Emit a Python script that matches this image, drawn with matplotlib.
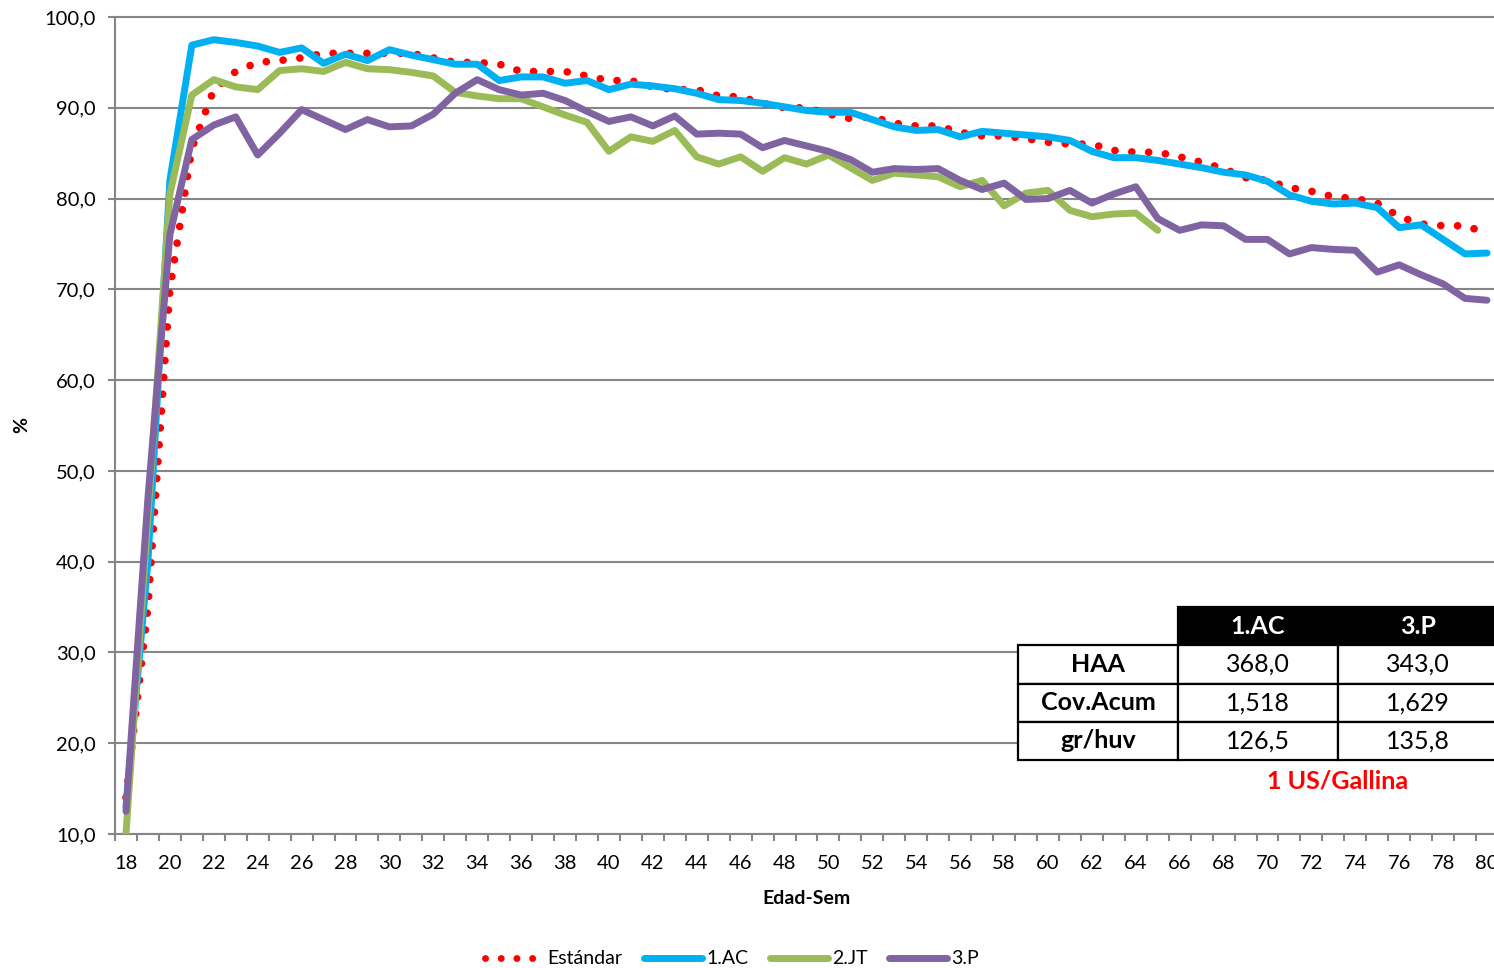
import matplotlib
matplotlib.use("Agg")
import matplotlib.pyplot as plt
from matplotlib.patches import Rectangle
from matplotlib.lines import Line2D
import numpy as np

plt.rcParams['font.family'] = ['Lato', 'DejaVu Sans']

# ---------------- data ----------------
weeks = list(range(18, 81))
weeks_jt = list(range(18, 66))

estandar = [14.0, 35.0, 70.0, 85.5, 92.0, 94.0, 95.0, 95.2, 95.5, 96.0,
            96.0, 96.0, 96.0, 96.0, 95.5, 95.0, 95.0, 94.8, 94.0, 94.0,
            94.0, 93.5, 93.0, 93.0, 92.3, 92.0, 92.0, 91.3, 91.2, 90.5,
            90.0, 90.0, 89.3, 88.8, 89.0, 88.3, 88.0, 88.0, 87.3, 86.9,
            86.9, 86.6, 86.2, 86.0, 86.0, 85.3, 85.1, 85.1, 84.6, 84.0,
            83.3, 82.3, 82.0, 81.2, 80.8, 80.2, 80.0, 79.5, 78.0, 77.2,
            77.0, 77.0, 76.2]

ac = [13.0, 40.0, 82.0, 96.9, 97.5, 97.2, 96.8, 96.1, 96.6, 94.9,
      95.9, 95.2, 96.4, 95.8, 95.3, 94.8, 94.8, 93.0, 93.4, 93.4,
      92.7, 93.0, 92.0, 92.6, 92.4, 92.1, 91.6, 90.9, 90.8, 90.5,
      90.1, 89.7, 89.5, 89.5, 88.7, 87.9, 87.5, 87.6, 86.8, 87.4,
      87.2, 87.0, 86.8, 86.4, 85.2, 84.5, 84.5, 84.2, 83.8, 83.4,
      82.9, 82.6, 81.9, 80.4, 79.7, 79.4, 79.5, 79.0, 76.8, 77.1,
      75.5, 73.9, 74.0]

jt = [10.0, 45.0, 80.5, 91.4, 93.1, 92.3, 92.0, 94.1, 94.3, 94.0,
      95.0, 94.3, 94.2, 93.9, 93.5, 91.7, 91.3, 91.0, 91.0, 90.1,
      89.2, 88.4, 85.2, 86.8, 86.3, 87.5, 84.6, 83.8, 84.6, 83.0,
      84.5, 83.8, 84.8, 83.4, 82.0, 82.8, 82.6, 82.4, 81.3, 82.0,
      79.2, 80.6, 80.9, 78.7, 78.0, 78.3, 78.4, 76.5]

p3 = [12.5, 47.0, 76.0, 86.5, 88.1, 89.0, 84.8, 87.2, 89.8, 88.7,
      87.6, 88.7, 87.9, 88.0, 89.3, 91.6, 93.1, 92.0, 91.4, 91.6,
      90.8, 89.6, 88.5, 89.0, 88.0, 89.1, 87.1, 87.2, 87.1, 85.6,
      86.4, 85.8, 85.2, 84.3, 82.9, 83.3, 83.2, 83.3, 82.0, 81.0,
      81.7, 79.9, 80.0, 80.9, 79.5, 80.5, 81.3, 77.8, 76.5, 77.1,
      77.0, 75.5, 75.5, 73.9, 74.6, 74.4, 74.3, 71.9, 72.7, 71.6,
      70.6, 69.0, 68.8]

series_names = ['Estándar', '1.AC', '2.JT', '3.P']
series_colors = ['#FF0000', '#00B0F0', '#9BBB59', '#8064A2']

table_cols = ['1.AC', '3.P']
table_rows = ['HAA', 'Cov.Acum', 'gr/huv']
table_vals = [['368,0', '343,0'],
              ['1,518', '1,629'],
              ['126,5', '135,8']]
table_note = '1 US/Gallina'

yticks = list(range(10, 101, 10))
xtick_weeks = list(range(18, 81, 2))

# ---------------- figure ----------------
W, H = 1494, 968
fig = plt.figure(figsize=(W / 100, H / 100), dpi=100)
fig.patch.set_facecolor('white')

def fx(x):
    return x / W

def fy(y):
    return 1 - y / H

ax = fig.add_axes([fx(115), fy(834), (1498 - 115) / W, (834 - 17) / H])
ax.set_xlim(17.5, 80.5)
ax.set_ylim(10, 100)

grid_c = '#868686'
ax.set_axisbelow(True)
ax.yaxis.grid(True, color=grid_c, lw=1.5)
for s in ['right']:
    ax.spines[s].set_visible(False)
for s in ['left', 'bottom', 'top']:
    ax.spines[s].set_color(grid_c)
    ax.spines[s].set_linewidth(1.5)

dot_style = (0, (0.01, 2.2))
ax.plot(weeks, estandar, color=series_colors[0], lw=5.5, linestyle=dot_style,
        dash_capstyle='round', zorder=3)
ax.plot(weeks, ac, color=series_colors[1], lw=5, solid_capstyle='round',
        solid_joinstyle='round', zorder=4)
ax.plot(weeks_jt, jt, color=series_colors[2], lw=5, solid_capstyle='round',
        solid_joinstyle='round', zorder=5)
ax.plot(weeks, p3, color=series_colors[3], lw=5, solid_capstyle='round',
        solid_joinstyle='round', zorder=6)

ax.set_yticks(yticks)
ax.set_yticklabels([f"{v:.1f}".replace('.', ',') for v in yticks], fontsize=14.5)
ax.tick_params(axis='y', length=5, width=1.5, color=grid_c, pad=9)

ax.set_xticks(xtick_weeks)
ax.set_xticklabels([str(w) for w in xtick_weeks], fontsize=14.5)
ax.set_xticks(np.arange(17.5, 80.6, 1.0), minor=True)
ax.tick_params(axis='x', which='major', length=0, pad=15)
ax.tick_params(axis='x', which='minor', length=5, width=1.5, color=grid_c)

fig.text(fx(806), fy(898), 'Edad-Sem', ha='center', va='center',
         fontsize=14, fontweight='bold')
fig.text(fx(22), fy(425), '%', ha='center', va='center', rotation=90,
         fontsize=14, fontweight='bold')

# ---------------- legend ----------------
handles = [
    Line2D([], [], color=series_colors[0], lw=5, linestyle=(0, (0.01, 2.25)),
           dash_capstyle='round'),
    Line2D([], [], color=series_colors[1], lw=5, solid_capstyle='round'),
    Line2D([], [], color=series_colors[2], lw=5, solid_capstyle='round'),
    Line2D([], [], color=series_colors[3], lw=5, solid_capstyle='round'),
]
fig.legend(handles, series_names, loc='center', bbox_to_anchor=(fx(732), fy(959)),
           ncol=4, frameon=False, fontsize=14, handlelength=3.0,
           handletextpad=0.2, columnspacing=1.1)

# ---------------- table ----------------
x_edges = [1018, 1178, 1338, 1498]
y_head = (607, 645)
y_rows = [645, 684, 722, 760]
lw_t = 1.6

fig.add_artist(Rectangle((fx(x_edges[1]), fy(y_head[1])),
                         (x_edges[3] - x_edges[1]) / W, (y_head[1] - y_head[0]) / H,
                         transform=fig.transFigure, facecolor='black',
                         edgecolor='black', lw=lw_t, zorder=10))
for j, c in enumerate(table_cols):
    xc = (x_edges[j + 1] + x_edges[j + 2]) / 2
    fig.text(fx(xc), fy((y_head[0] + y_head[1]) / 2), c, ha='center', va='center',
             color='white', fontsize=18, fontweight='bold', zorder=11)

for i, r in enumerate(table_rows):
    y0, y1 = y_rows[i], y_rows[i + 1]
    for j in range(3):
        fig.add_artist(Rectangle((fx(x_edges[j]), fy(y1)),
                                 (x_edges[j + 1] - x_edges[j]) / W, (y1 - y0) / H,
                                 transform=fig.transFigure, facecolor='white',
                                 edgecolor='black', lw=lw_t, zorder=10))
    yc = fy((y0 + y1) / 2)
    fig.text(fx((x_edges[0] + x_edges[1]) / 2), yc, r, ha='center', va='center',
             fontsize=18, fontweight='bold', zorder=11)
    for j in range(2):
        xc = (x_edges[j + 1] + x_edges[j + 2]) / 2
        fig.text(fx(xc), yc, table_vals[i][j], ha='center', va='center',
                 fontsize=18, zorder=11)

fig.text(fx(1338), fy(781), table_note, ha='center', va='center',
         color='#FF0000', fontsize=18, fontweight='bold', zorder=11)

fig.savefig('out.png', dpi=100, facecolor='white')
